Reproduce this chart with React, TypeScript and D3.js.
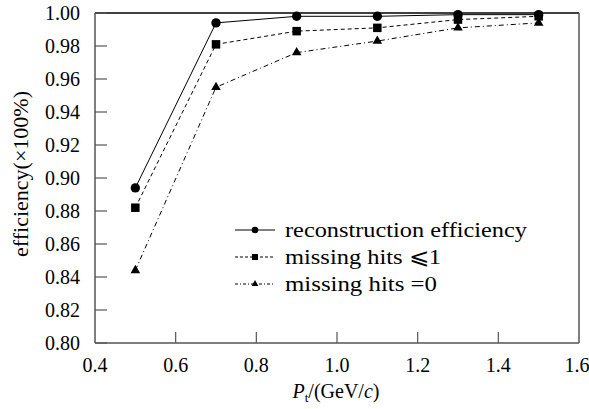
import React from "react";
import * as d3 from "d3";

const ptValues = [0.5, 0.7, 0.9, 1.1, 1.3, 1.5];
const recoEff = [0.894, 0.994, 0.998, 0.998, 0.999, 0.999];
const missLe1 = [0.882, 0.981, 0.989, 0.991, 0.996, 0.998];
const missEq0 = [0.844, 0.955, 0.976, 0.983, 0.991, 0.994];
const seriesNames = ["reconstruction efficiency", "missing hits \u2A7D1", "missing hits =0"];
const xTicks = [0.4, 0.6, 0.8, 1.0, 1.2, 1.4, 1.6];
const yTicks = [0.8, 0.82, 0.84, 0.86, 0.88, 0.9, 0.92, 0.94, 0.96, 0.98, 1.0];

const W = 589, H = 409;
const L = 95, R = 579, T = 13, B = 343;
const FONT = "'Liberation Serif', 'Times New Roman', Times, serif";

export default function App() {
  const x = d3.scaleLinear().domain([0.4, 1.6]).range([L, R]);
  const y = d3.scaleLinear().domain([0.8, 1.0]).range([B, T]);
  const line = d3.line<number>().x((_, i) => x(ptValues[i])).y((d) => y(d));
  const series = [
    { vals: recoEff, dash: undefined as string | undefined, marker: "circle" },
    { vals: missLe1, dash: "4,3", marker: "square" },
    { vals: missEq0, dash: "5,3,1,3", marker: "triangle" },
  ];
  const axisColor = "#555";
  const marker = (type: string, cx: number, cy: number, s: number, key?: any) => {
    if (type === "circle") return <circle key={key} cx={cx} cy={cy} r={s * 0.55} fill="#000" />;
    if (type === "square")
      return <rect key={key} x={cx - s / 2} y={cy - s / 2} width={s} height={s} fill="#000" />;
    const sym = d3.symbol().type(d3.symbolTriangle).size(s * s * 0.55)();
    return <path key={key} d={sym as string} transform={`translate(${cx},${cy})`} fill="#000" />;
  };
  const legendRows = [230, 257, 284];
  const legendLens = [242, 156, 152];
  const ts = { fontFamily: FONT } as React.CSSProperties;
  return (
    <svg width={W} height={H} style={{ position: "absolute", left: 0, top: 0, background: "#fff", fontFamily: FONT }}>
      <rect x={0} y={0} width={W} height={H} fill="#fff" />
      <line x1={L} x2={R} y1={T} y2={T} stroke="#000" strokeWidth={1.5} />
      <line x1={R} x2={R} y1={T} y2={B} stroke={axisColor} strokeWidth={1.5} />
      <line x1={L} x2={L} y1={T} y2={B} stroke={axisColor} strokeWidth={1.5} />
      <line x1={L} x2={R} y1={B} y2={B} stroke={axisColor} strokeWidth={1.5} />
      {yTicks.map((t) => (
        <g key={"y" + t}>
          <line x1={L} x2={L + 12} y1={y(t)} y2={y(t)} stroke={axisColor} strokeWidth={1.2} />
          <text x={L - 15} y={y(t)} dy="0.35em" textAnchor="end" style={ts} fontSize={20}>
            {t.toFixed(2)}
          </text>
        </g>
      ))}
      {xTicks.map((t) => (
        <g key={"x" + t}>
          {t > 0.4 && t < 1.6 && (
            <line x1={x(t)} x2={x(t)} y1={B} y2={B - 11} stroke={axisColor} strokeWidth={1.2} />
          )}
          <text x={Math.min(x(t), W - 12)} y={372} textAnchor="middle" style={ts} fontSize={20}>
            {t.toFixed(1)}
          </text>
        </g>
      ))}
      <text x={336} y={398} textAnchor="middle" style={ts} fontSize={20}>
        <tspan fontStyle="italic">P</tspan>
        <tspan fontSize={13} dy={4}>t</tspan>
        <tspan dy={-4}>/(GeV/</tspan>
        <tspan fontStyle="italic">c</tspan>
        <tspan>)</tspan>
      </text>
      <text transform={`translate(28,174) rotate(-90)`} textAnchor="middle" style={ts} fontSize={22}>
        efficiency(×100%)
      </text>
      {series.map((s, si) => (
        <g key={"s" + si}>
          <path d={line(s.vals) as string} fill="none" stroke="#000" strokeWidth={1} strokeDasharray={s.dash} />
          {s.vals.map((v, i) => marker(s.marker, x(ptValues[i]), y(v), 8.5, i))}
        </g>
      ))}
      {seriesNames.map((name, i) => (
        <g key={"l" + i}>
          <line
            x1={235}
            x2={275}
            y1={legendRows[i]}
            y2={legendRows[i]}
            stroke="#000"
            strokeWidth={1}
            strokeDasharray={series[i].dash ? (i === 1 ? "3,2" : "3,2,1,2") : undefined}
          />
          {marker(series[i].marker, 255, legendRows[i], 6)}
          <text
            x={285}
            y={legendRows[i]}
            dy="0.33em"
            style={ts}
            fontSize={22}
            textLength={legendLens[i]}
            lengthAdjust="spacingAndGlyphs"
          >
            {name}
          </text>
        </g>
      ))}
    </svg>
  );
}
